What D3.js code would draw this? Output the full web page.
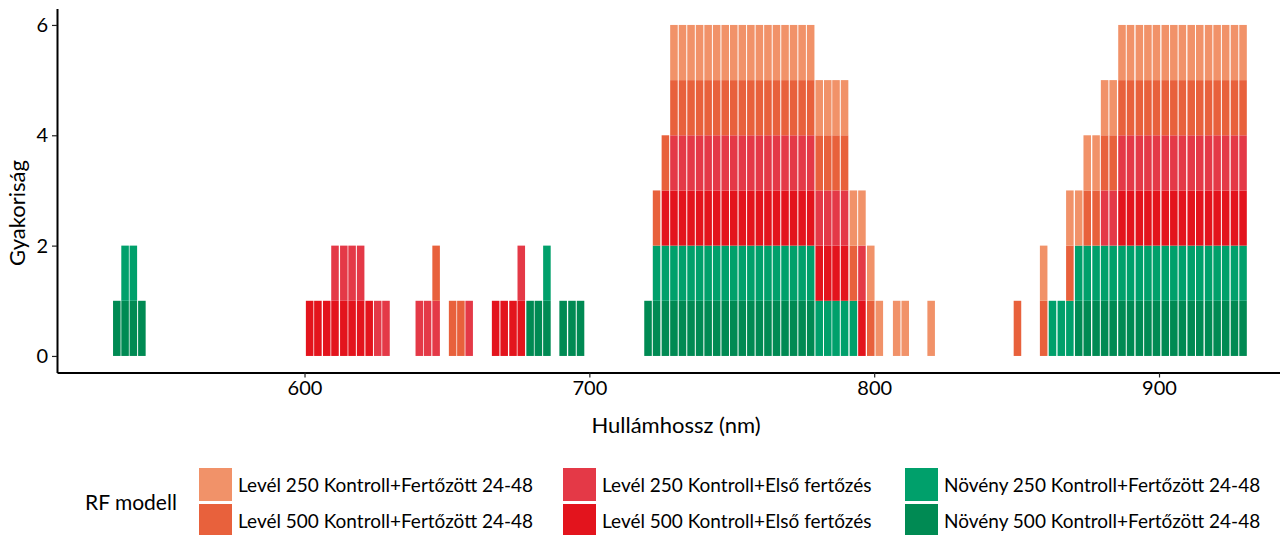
<!DOCTYPE html>
<html>
<head>
<meta charset="utf-8">
<script src="https://cdn.jsdelivr.net/npm/d3@7"></script>
<style>
  body { margin: 0; background: #fff; }
  text { font-family: Lato, "Open Sans", sans-serif; fill: #000; }
</style>
</head>
<body>
<div id="chart"></div>
<script>
// series names in legend order
var seriesNames = [
  "Levél 250 Kontroll+Fertőzött 24-48",
  "Levél 500 Kontroll+Fertőzött 24-48",
  "Levél 250 Kontroll+Első fertőzés",
  "Levél 500 Kontroll+Első fertőzés",
  "Növény 250 Kontroll+Fertőzött 24-48",
  "Növény 500 Kontroll+Fertőzött 24-48"
];
var seriesColors = ["#f19269", "#e8613c", "#e43947", "#e3141d", "#00a06b", "#008a53"];

// selected wavelengths (nm, bin centres) for each model
var level250Kontroll = [729.7, 732.7, 735.7, 738.7, 741.7, 744.7, 747.7, 750.7, 753.7, 756.7, 759.7, 762.7, 765.7, 768.7, 771.7, 774.7, 777.7,
  780.7, 783.7, 786.6, 789.6, 792.7, 795.7, 798.8, 801.8, 807.9, 810.9, 820.0, 859.5, 868.7, 871.8, 874.8, 877.9, 880.9, 883.9,
  887.0, 890.0, 893.1, 896.1, 899.1, 902.2, 905.2, 908.2, 911.3, 914.3, 917.4, 920.4, 923.4, 926.5, 929.5];
var level500Kontroll = [646.2, 652.0, 654.9, 723.6, 726.7,
  729.7, 732.7, 735.7, 738.7, 741.7, 744.7, 747.7, 750.7, 753.7, 756.7, 759.7, 762.7, 765.7, 768.7, 771.7, 774.7, 777.7,
  780.7, 783.7, 786.6, 789.6, 792.7, 798.8, 850.3, 859.5, 868.7, 874.8, 877.9, 880.9, 883.9,
  887.0, 890.0, 893.1, 896.1, 899.1, 902.2, 905.2, 908.2, 911.3, 914.3, 917.4, 920.4, 923.4, 926.5, 929.5];
var level250Elso = [610.7, 613.8, 616.7, 619.7, 625.7, 628.6, 640.3, 643.2, 646.2, 657.8, 676.1,
  729.7, 732.7, 735.7, 738.7, 741.7, 744.7, 747.7, 750.7, 753.7, 756.7, 759.7, 762.7, 765.7, 768.7, 771.7, 774.7, 777.7,
  780.7, 783.7, 786.6, 789.6, 795.7, 880.9, 883.9,
  887.0, 890.0, 893.1, 896.1, 899.1, 902.2, 905.2, 908.2, 911.3, 914.3, 917.4, 920.4, 923.4, 926.5, 929.5];
var level500Elso = [601.8, 604.7, 607.8, 610.7, 613.8, 616.7, 619.7, 622.7, 667.1, 670.1, 673.2, 676.1, 726.7,
  729.7, 732.7, 735.7, 738.7, 741.7, 744.7, 747.7, 750.7, 753.7, 756.7, 759.7, 762.7, 765.7, 768.7, 771.7, 774.7, 777.7,
  780.7, 783.7, 786.6, 789.6, 795.7,
  887.0, 890.0, 893.1, 896.1, 899.1, 902.2, 905.2, 908.2, 911.3, 914.3, 917.4, 920.4, 923.4, 926.5, 929.5];
var noveny250 = [537.0, 539.9, 685.1, 723.6, 726.7,
  729.7, 732.7, 735.7, 738.7, 741.7, 744.7, 747.7, 750.7, 753.7, 756.7, 759.7, 762.7, 765.7, 768.7, 771.7, 774.7, 777.7,
  780.7, 783.7, 786.6, 789.6, 792.7, 862.6, 865.7, 868.7, 871.8, 874.8, 877.9, 880.9, 883.9,
  887.0, 890.0, 893.1, 896.1, 899.1, 902.2, 905.2, 908.2, 911.3, 914.3, 917.4, 920.4, 923.4, 926.5, 929.5];
var noveny500 = [534.1, 537.0, 539.9, 542.9, 679.2, 682.1, 685.1, 690.8, 693.9, 696.9, 720.6, 723.6, 726.7,
  729.7, 732.7, 735.7, 738.7, 741.7, 744.7, 747.7, 750.7, 753.7, 756.7, 759.7, 762.7, 765.7, 768.7, 771.7, 774.7, 777.7,
  871.8, 874.8, 877.9, 880.9, 883.9,
  887.0, 890.0, 893.1, 896.1, 899.1, 902.2, 905.2, 908.2, 911.3, 914.3, 917.4, 920.4, 923.4, 926.5, 929.5];

var seriesValues = [level250Kontroll, level500Kontroll, level250Elso, level500Elso, noveny250, noveny500];
var xTicks = [600, 700, 800, 900];
var yTicks = [0, 2, 4, 6];
var binWidth = 3;

var width = 1280, height = 535;

var svg = d3.select("#chart").append("svg")
  .attr("width", width)
  .attr("height", height);

var x = d3.scaleLinear().domain([513.1, 950.9]).range([57, 1304]);
var y = d3.scaleLinear().domain([-0.3, 6.3]).range([372.5, 8.4]);

// table: one row per wavelength, a 0/1 count for each model
var allWl = Array.from(new Set(d3.merge(seriesValues))).sort(d3.ascending);
var table = allWl.map(function(w) {
  var row = { wl: w };
  seriesNames.forEach(function(name, i) {
    row[name] = seriesValues[i].indexOf(w) >= 0 ? 1 : 0;
  });
  return row;
});

// ggplot stacks the first level on top
var stackKeys = seriesNames.slice().reverse();
var stacked = d3.stack().keys(stackKeys)(table);

var color = d3.scaleOrdinal().domain(seriesNames).range(seriesColors);

var bars = svg.append("g");
stacked.forEach(function(layer) {
  bars.selectAll(null)
    .data(layer.filter(function(d) { return d[1] > d[0]; }))
    .enter().append("rect")
      .attr("x", function(d) { return x(d.data.wl - binWidth / 2) + 0.5; })
      .attr("width", function(d) { return x(d.data.wl + binWidth / 2) - x(d.data.wl - binWidth / 2) - 1; })
      .attr("y", function(d) { return y(d[1]); })
      .attr("height", function(d) { return y(d[0]) - y(d[1]); })
      .style("fill", color(layer.key));
});

// axes
var xAxis = svg.append("g")
  .attr("transform", "translate(0," + y(-0.3) + ")")
  .call(d3.axisBottom(x).tickValues(xTicks).tickSize(5).tickSizeOuter(0).tickPadding(3));
var yAxis = svg.append("g")
  .attr("transform", "translate(" + x(513.1) + ",0)")
  .call(d3.axisLeft(y).tickValues(yTicks).tickFormat(d3.format("d")).tickSize(5).tickSizeOuter(0).tickPadding(4));

[xAxis, yAxis].forEach(function(a) {
  a.select(".domain").attr("stroke", "#000").attr("stroke-width", 2);
  a.selectAll(".tick line").attr("stroke", "#222").attr("stroke-width", 1.2);
  a.selectAll(".tick text").style("font-size", "20px").attr("fill", "#000");
});

svg.append("text")
  .attr("x", 676).attr("y", 433)
  .attr("text-anchor", "middle")
  .style("font-size", "22px")
  .text("Hullámhossz (nm)");

svg.append("text")
  .attr("transform", "translate(25,213) rotate(-90)")
  .attr("text-anchor", "middle")
  .style("font-size", "22px")
  .text("Gyakoriság");

// legend
var legend = svg.append("g");
legend.append("text")
  .attr("x", 85).attr("y", 510)
  .style("font-size", "21px")
  .text("RF modell");

var legendCols = [199, 563, 905];
var item = legend.selectAll(".item")
  .data(seriesNames)
  .enter().append("g")
    .attr("class", "item")
    .attr("transform", function(d, i) {
      return "translate(" + legendCols[Math.floor(i / 2)] + "," + (468 + (i % 2) * 36) + ")";
    });
item.append("rect")
  .attr("width", 33).attr("height", 33)
  .style("fill", function(d) { return color(d); });
item.append("text")
  .attr("x", 39).attr("y", 24)
  .style("font-size", "19px")
  .text(function(d) { return d; });
</script>
</body>
</html>
